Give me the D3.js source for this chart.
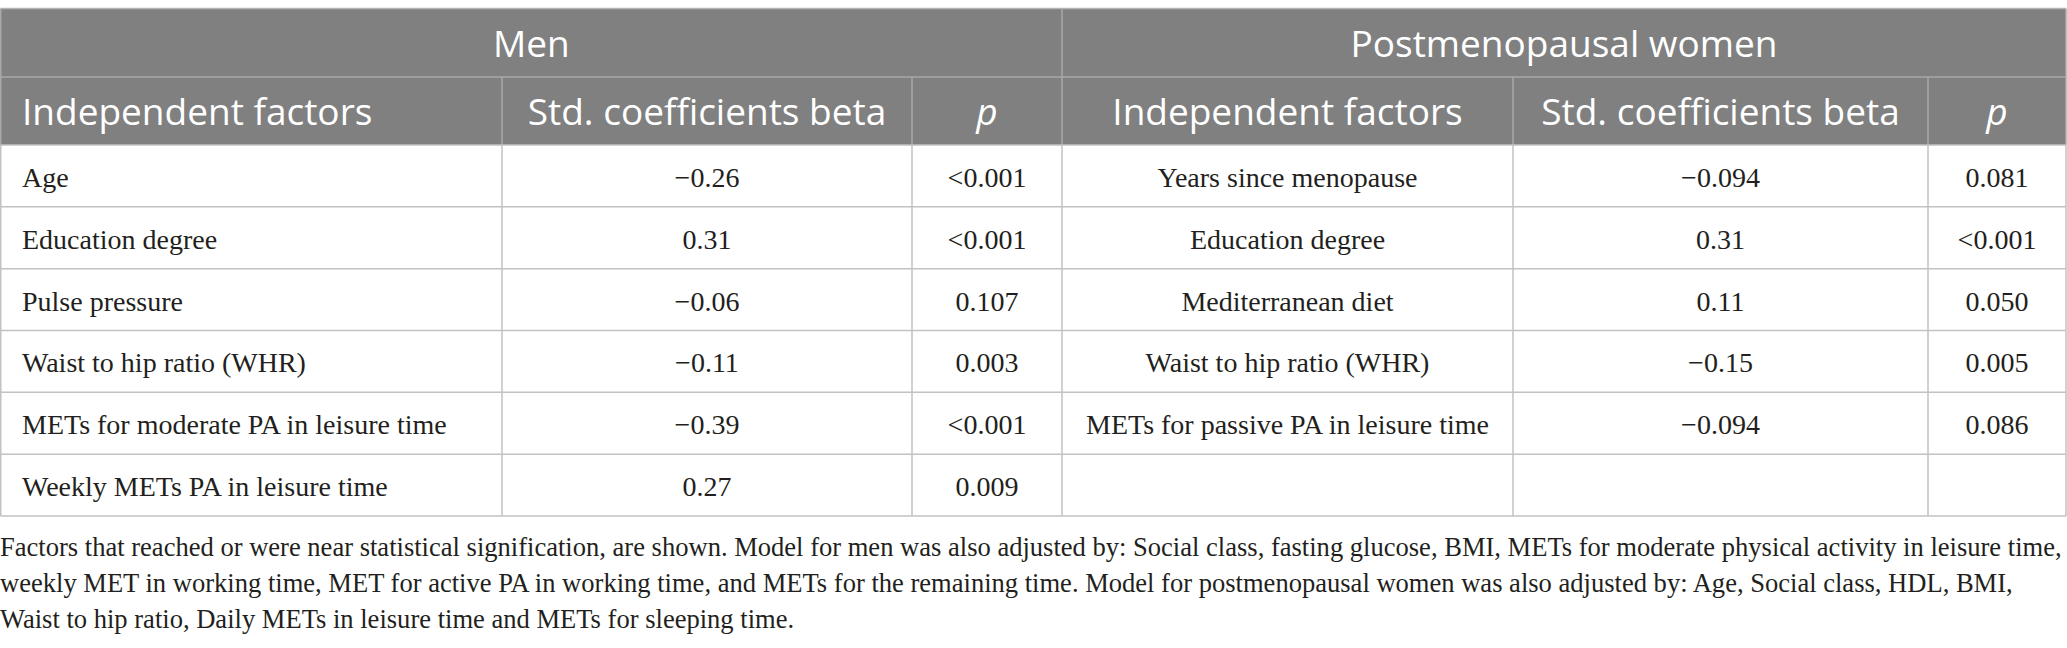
<!DOCTYPE html>
<html>
<head>
<meta charset="utf-8">
<script src="https://cdn.jsdelivr.net/npm/d3@7"></script>
<style>
  body { margin: 0; background: #fff; }
  svg { display: block; }
</style>
</head>
<body>
<svg id="chart" width="2067" height="648"></svg>
<script>
// data
var groups = ["Men", "Postmenopausal women"];
var colHeads = ["Independent factors", "Std. coefficients beta", "p"];

var menFactors = ["Age", "Education degree", "Pulse pressure", "Waist to hip ratio (WHR)",
                  "METs for moderate PA in leisure time", "Weekly METs PA in leisure time"];
var menBeta = ["\u22120.26", "0.31", "\u22120.06", "\u22120.11", "\u22120.39", "0.27"];
var menP = ["<0.001", "<0.001", "0.107", "0.003", "<0.001", "0.009"];

var womenFactors = ["Years since menopause", "Education degree", "Mediterranean diet",
                    "Waist to hip ratio (WHR)", "METs for passive PA in leisure time", ""];
var womenBeta = ["\u22120.094", "0.31", "0.11", "\u22120.15", "\u22120.094", ""];
var womenP = ["0.081", "<0.001", "0.050", "0.005", "0.086", ""];

var footnote = [
  "Factors that reached or were near statistical signification, are shown. Model for men was also adjusted by: Social class, fasting glucose, BMI, METs for moderate physical activity in leisure time,",
  "weekly MET in working time, MET for active PA in working time, and METs for the remaining time. Model for postmenopausal women was also adjusted by: Age, Social class, HDL, BMI,",
  "Waist to hip ratio, Daily METs in leisure time and METs for sleeping time."
];

// layout
var colEdges = [0.75, 502, 912, 1062, 1513, 1928, 2066];
var tableTop = 8.5, head1 = 77, head2 = 145, tableBottom = 516;
var headFill = "#7f807f", headLine = "#a7a8a7", bodyLine = "#c2c2c2";
var sans = "'Open Sans', 'Noto Sans', sans-serif";
var serif = "'Liberation Serif', 'DejaVu Serif', serif";

var svg = d3.select("#chart");

var rowIdx = d3.range(menFactors.length);
var y = d3.scaleBand().domain(rowIdx).range([head2, tableBottom]);

// header background
svg.append("rect")
  .attr("x", colEdges[0]).attr("y", tableTop)
  .attr("width", colEdges[6] - colEdges[0]).attr("height", head2 - tableTop)
  .attr("fill", headFill);

// header lines
svg.append("line")
  .attr("x1", colEdges[0]).attr("x2", colEdges[6])
  .attr("y1", tableTop).attr("y2", tableTop)
  .attr("stroke", "#b4b4b4").attr("stroke-width", 1.5);
svg.append("line")
  .attr("x1", colEdges[0]).attr("x2", colEdges[6])
  .attr("y1", head1).attr("y2", head1)
  .attr("stroke", headLine).attr("stroke-width", 1.5);
svg.selectAll(".hv")
  .data(colEdges)
  .enter()
  .append("line")
  .attr("class", "hv")
  .attr("x1", d => d).attr("x2", d => d)
  .attr("y1", (d, i) => (i === 0 || i === 3 || i === 6) ? tableTop : head1)
  .attr("y2", head2)
  .attr("stroke", headLine).attr("stroke-width", 1.5);

// body lines
svg.selectAll(".bh")
  .data(rowIdx.concat([rowIdx.length]))
  .enter()
  .append("line")
  .attr("class", "bh")
  .attr("x1", colEdges[0]).attr("x2", colEdges[6])
  .attr("y1", d => d < rowIdx.length ? y(d) : tableBottom)
  .attr("y2", d => d < rowIdx.length ? y(d) : tableBottom)
  .attr("stroke", bodyLine).attr("stroke-width", 1.5);
svg.selectAll(".bv")
  .data(colEdges)
  .enter()
  .append("line")
  .attr("class", "bv")
  .attr("x1", d => d).attr("x2", d => d)
  .attr("y1", head2).attr("y2", tableBottom)
  .attr("stroke", bodyLine).attr("stroke-width", 1.5);

// group titles
svg.selectAll(".grp")
  .data(groups)
  .enter()
  .append("text")
  .attr("class", "grp")
  .attr("x", (d, i) => (colEdges[i * 3] + colEdges[i * 3 + 3]) / 2)
  .attr("y", (tableTop + head1) / 2 + 14)
  .attr("text-anchor", "middle")
  .attr("fill", "#fff")
  .style("font-family", sans).style("font-size", "37px")
  .text(d => d);

// column titles
var heads = [];
groups.forEach(function(g, gi) {
  colHeads.forEach(function(h, hi) { heads.push({text: h, col: gi * 3 + hi}); });
});
svg.selectAll(".colhead")
  .data(heads)
  .enter()
  .append("text")
  .attr("class", "colhead")
  .attr("x", d => d.col === 0 ? 22 : (colEdges[d.col] + colEdges[d.col + 1]) / 2)
  .attr("y", (head1 + head2) / 2 + 14)
  .attr("text-anchor", d => d.col === 0 ? "start" : "middle")
  .attr("fill", "#fff")
  .style("font-family", sans).style("font-size", "37px")
  .style("font-style", d => d.text === "p" ? "italic" : "normal")
  .text(d => d.text);

// cells
var columns = [menFactors, menBeta, menP, womenFactors, womenBeta, womenP];
var cells = [];
columns.forEach(function(vals, c) {
  vals.forEach(function(v, r) { cells.push({text: v, col: c, row: r}); });
});
svg.selectAll(".cell")
  .data(cells)
  .enter()
  .append("text")
  .attr("class", "cell")
  .attr("x", d => d.col === 0 ? 22 : (colEdges[d.col] + colEdges[d.col + 1]) / 2)
  .attr("y", d => y(d.row) + y.bandwidth() / 2 + 11)
  .attr("text-anchor", d => d.col === 0 ? "start" : "middle")
  .attr("fill", "#231f20")
  .style("font-family", serif).style("font-size", "28px")
  .text(d => d.text);

// footnote, sized so the first line spans the table width
var notes = svg.selectAll(".note")
  .data(footnote)
  .enter()
  .append("text")
  .attr("class", "note")
  .attr("x", 0)
  .attr("y", (d, i) => 556 + i * 36)
  .attr("fill", "#231f20")
  .style("font-family", serif).style("font-size", "28px")
  .text(d => d);
var w = notes.node().getComputedTextLength();
notes.style("font-size", (28 * 2062 / w) + "px");
</script>
</body>
</html>
